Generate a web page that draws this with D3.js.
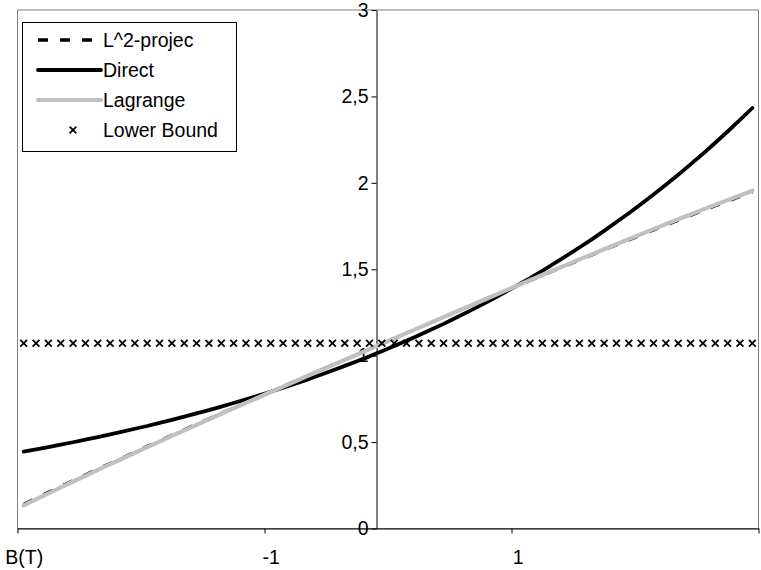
<!DOCTYPE html>
<html><head><meta charset="utf-8">
<script src="https://cdn.jsdelivr.net/npm/d3@7"></script>
<style>
body{margin:0;background:#fff}
svg{display:block}
text{font-family:"Liberation Sans",Arial,Helvetica,sans-serif;fill:#000}
</style>
</head><body>
<svg id="chart" width="761" height="570"></svg>
<script>
// ---- data ----
const categories = ["B(T)","-2.9","-2.8","-2.7","-2.6","-2.5","-2.4","-2.3","-2.2","-2.1",
  "-2","-1.9","-1.8","-1.7","-1.6","-1.5","-1.4","-1.3","-1.2","-1.1",
  "-1","-0.9","-0.8","-0.7","-0.6","-0.5","-0.4","-0.3","-0.2","-0.1",
  "0","0.1","0.2","0.3","0.4","0.5","0.6","0.7","0.8","0.9",
  "1","1.1","1.2","1.3","1.4","1.5","1.6","1.7","1.8","1.9",
  "2","2.1","2.2","2.3","2.4","2.5","2.6","2.7","2.8","2.9"];

const l2Projection = [0.141,0.176,0.210,0.244,0.278,0.311,0.345,0.377,0.410,0.443,
  0.476,0.507,0.540,0.572,0.604,0.635,0.667,0.698,0.730,0.760,
  0.792,0.823,0.854,0.885,0.915,0.946,0.977,1.007,1.038,1.069,
  1.099,1.130,1.160,1.191,1.222,1.253,1.282,1.313,1.343,1.374,
  1.403,1.434,1.464,1.494,1.523,1.553,1.582,1.612,1.640,1.669,
  1.698,1.727,1.755,1.783,1.811,1.839,1.867,1.893,1.920,1.947];

const direct = [0.445,0.458,0.471,0.485,0.499,0.514,0.529,0.544,0.560,0.577,
  0.593,0.611,0.629,0.647,0.666,0.685,0.705,0.726,0.747,0.769,
  0.791,0.815,0.838,0.863,0.888,0.914,0.941,0.968,0.996,1.026,
  1.056,1.086,1.118,1.151,1.184,1.219,1.255,1.291,1.329,1.368,
  1.408,1.449,1.491,1.535,1.580,1.626,1.673,1.722,1.773,1.824,
  1.878,1.933,1.989,2.047,2.107,2.168,2.232,2.297,2.364,2.433];

const lagrange = [0.134,0.169,0.203,0.238,0.272,0.305,0.339,0.372,0.405,0.438,
  0.471,0.503,0.536,0.568,0.600,0.632,0.664,0.695,0.727,0.758,
  0.790,0.821,0.852,0.883,0.914,0.945,0.976,1.007,1.038,1.069,
  1.099,1.130,1.161,1.192,1.223,1.254,1.284,1.315,1.345,1.376,
  1.406,1.437,1.467,1.497,1.527,1.557,1.586,1.616,1.645,1.674,
  1.703,1.732,1.761,1.789,1.817,1.845,1.873,1.900,1.927,1.954];

const lowerBound = [1.072,1.072,1.072,1.072,1.072,1.072,1.072,1.072,1.072,1.072,
  1.072,1.072,1.072,1.072,1.072,1.072,1.072,1.072,1.072,1.072,
  1.072,1.072,1.072,1.072,1.072,1.072,1.072,1.072,1.072,1.072,
  1.072,1.072,1.072,1.072,1.072,1.072,1.072,1.072,1.072,1.072,
  1.072,1.072,1.072,1.072,1.072,1.072,1.072,1.072,1.072,1.072,
  1.072,1.072,1.072,1.072,1.072,1.072,1.072,1.072,1.072,1.072];

const yTickValues = [0,0.5,1,1.5,2,2.5,3];
const yTickLabels = ["0","0,5","1","1,5","2","2,5","3"];
const xLabelIndices = [0,20,40];
const xTickIndices = [0,20,40,60];
const yAxisCrossIndex = 29;
const seriesNames = ["L^2-projec","Direct","Lagrange","Lower Bound"];

// ---- drawing ----
const svg = d3.select("#chart");
const FONT = 19.5;
const plot = {left:17.5, right:758.5, top:10, bottom:528.5};
const n = categories.length;

const xEdge = d3.scaleLinear().domain([0, n]).range([plot.left, plot.right]);
const xc = i => xEdge(i + 0.5);
const y = d3.scaleLinear().domain([0, 3]).range([plot.bottom, plot.top]);

// plot area border (gray)
svg.append("rect")
  .attr("x", plot.left).attr("y", plot.top)
  .attr("width", plot.right - plot.left).attr("height", plot.bottom - plot.top)
  .attr("fill", "#fff").attr("stroke", "#808080").attr("stroke-width", 1);

// y axis
const yAxisX = Math.round(xEdge(yAxisCrossIndex)) + 0.5;
const yAxis = svg.append("g").attr("transform", `translate(${yAxisX},0)`)
  .call(d3.axisLeft(y).tickValues(yTickValues)
    .tickFormat((d, i) => yTickLabels[i]).tickSize(5).tickPadding(3).tickSizeOuter(0));
yAxis.selectAll("text").attr("font-size", FONT).attr("font-family", null);
yAxis.selectAll("line, path").attr("stroke", "#000");

// x axis (tick marks at category boundaries)
const xAxis = svg.append("g").attr("transform", `translate(0,${plot.bottom})`)
  .call(d3.axisBottom(xEdge).tickValues(xTickIndices).tickFormat("").tickSize(5).tickSizeOuter(0));
xAxis.selectAll("line, path").attr("stroke", "#000");

// x labels centred on their categories
const xLab = svg.append("g").attr("transform", `translate(0,${plot.bottom})`)
  .call(d3.axisBottom(d3.scaleLinear().domain([0, n]).range([plot.left, plot.right]))
    .tickValues(xLabelIndices.map(i => i + 0.5))
    .tickFormat(v => categories[Math.floor(v)]).tickSize(0).tickPadding(22));
xLab.select("path").remove();
xLab.selectAll("text").attr("font-size", FONT).attr("font-family", null);

// series
const line = d3.line().x((d, i) => xc(i)).y(d => y(d));

svg.append("path").datum(l2Projection).attr("d", line)
  .attr("fill", "none").attr("stroke", "#000").attr("stroke-width", 3)
  .attr("stroke-dasharray", "10,12");

svg.append("path").datum(direct).attr("d", line)
  .attr("fill", "none").attr("stroke", "#000").attr("stroke-width", 3.8)
  .attr("stroke-linejoin", "round").attr("stroke-linecap", "round");

svg.append("path").datum(lagrange).attr("d", line)
  .attr("fill", "none").attr("stroke", "#c0c0c0").attr("stroke-width", 4.2)
  .attr("stroke-linejoin", "round").attr("stroke-linecap", "round");

const crossPath = "M-3.4,-3.4L3.4,3.4M-3.4,3.4L3.4,-3.4";
svg.append("g").selectAll("path").data(lowerBound).join("path")
  .attr("transform", (d, i) => `translate(${xc(i)},${y(d)})`)
  .attr("d", crossPath).attr("stroke", "#000").attr("stroke-width", 1.8).attr("fill", "none");

// legend
const lg = svg.append("g");
lg.append("rect").attr("x", 22.5).attr("y", 22.5).attr("width", 214).attr("height", 129)
  .attr("fill", "#fff").attr("stroke", "#000").attr("stroke-width", 1);
const rowsY = [40, 70, 100, 130];
const sx0 = 38, sx1 = 101, tx = 103;
lg.append("line").attr("x1", sx0).attr("x2", sx1).attr("y1", rowsY[0]).attr("y2", rowsY[0])
  .attr("stroke", "#000").attr("stroke-width", 3.5).attr("stroke-dasharray", "10,12");
lg.append("line").attr("x1", sx0).attr("x2", sx1).attr("y1", rowsY[1]).attr("y2", rowsY[1])
  .attr("stroke", "#000").attr("stroke-width", 3.8).attr("stroke-linecap", "round");
lg.append("line").attr("x1", sx0).attr("x2", sx1).attr("y1", rowsY[2]).attr("y2", rowsY[2])
  .attr("stroke", "#c0c0c0").attr("stroke-width", 4.2).attr("stroke-linecap", "round");
lg.append("path").attr("transform", `translate(73,${rowsY[3]})`).attr("d", crossPath)
  .attr("stroke", "#000").attr("stroke-width", 1.8);
lg.selectAll("text.lt").data(seriesNames).join("text").attr("class", "lt")
  .attr("x", tx).attr("y", (d, i) => rowsY[i]).attr("dy", "0.35em")
  .attr("font-size", FONT).text(d => d);
</script>
</body></html>
